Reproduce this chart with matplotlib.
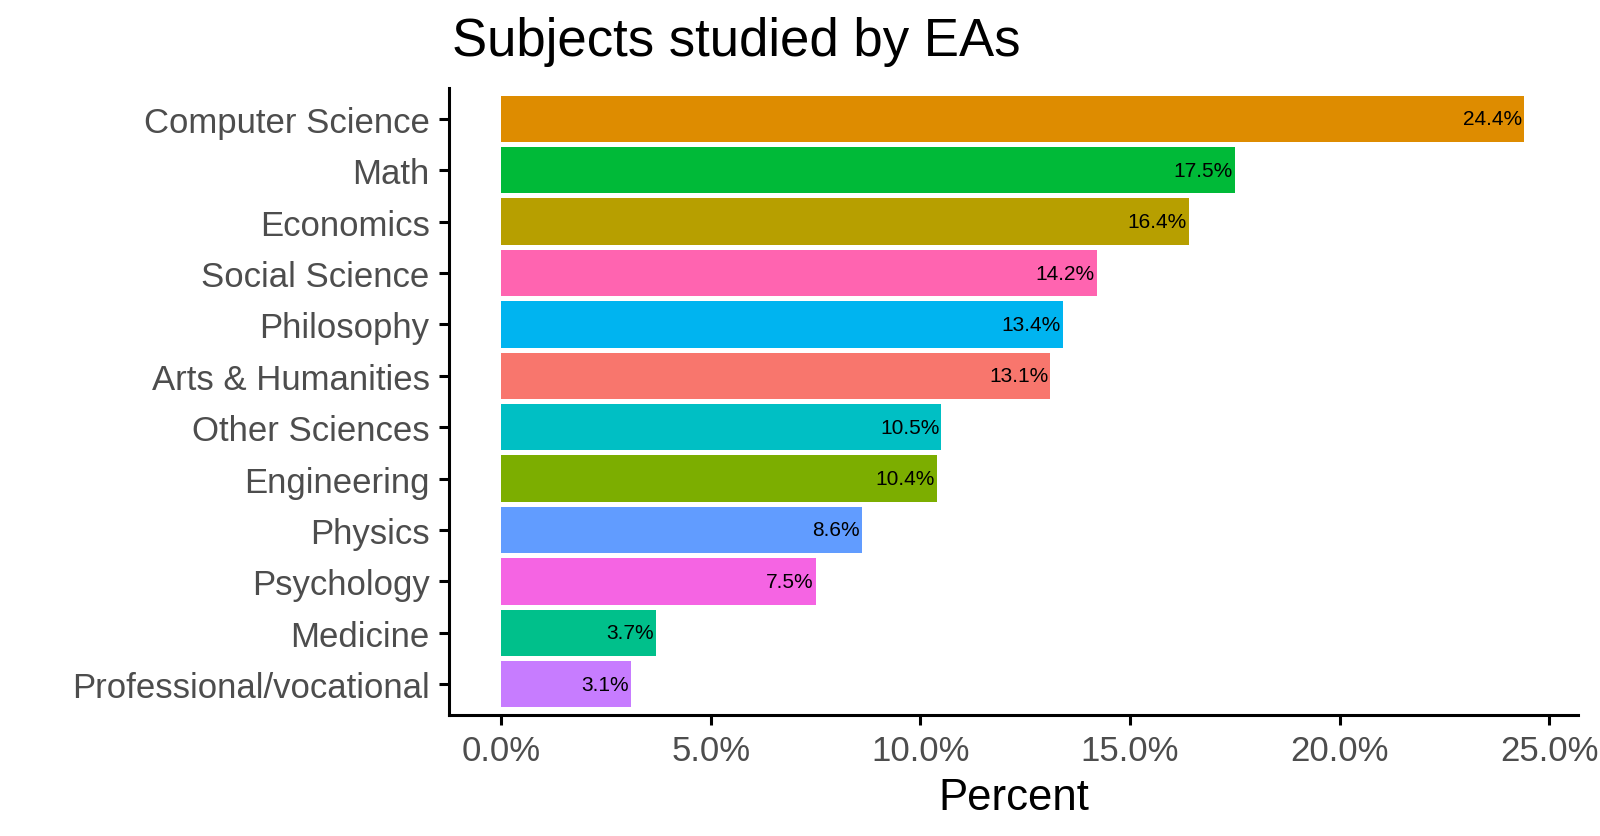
import matplotlib
matplotlib.use("Agg")
import matplotlib.pyplot as plt
from matplotlib.ticker import FuncFormatter

plt.rcParams["font.family"] = ["Liberation Sans", "DejaVu Sans"]

# subjects, top to bottom as in the chart
subjects = ["Computer Science", "Math", "Economics", "Social Science", "Philosophy",
            "Arts & Humanities", "Other Sciences", "Engineering", "Physics",
            "Psychology", "Medicine", "Professional/vocational"]
percents = [24.4, 17.5, 16.4, 14.2, 13.4, 13.1, 10.5, 10.4, 8.6, 7.5, 3.7, 3.1]

# ggplot default hue palette, assigned alphabetically
hue = ["#F8766D", "#DE8C00", "#B79F00", "#7CAE00", "#00BA38", "#00C08B",
       "#00BFC4", "#00B4F0", "#619CFF", "#C77CFF", "#F564E3", "#FF64B0"]
alpha_order = sorted(subjects)
colors = [hue[alpha_order.index(s)] for s in subjects]

fig = plt.figure(figsize=(16, 8.37), dpi=100)
ax = fig.add_axes([449 / 1600, 1 - 716 / 837, 1129 / 1600, 627 / 837])

ypos = list(range(len(subjects)))[::-1]
ax.barh(ypos, percents, height=0.9, color=colors)
for y, v in zip(ypos, percents):
    ax.text(v - 0.05, y, f"{v}%", ha="right", va="center", fontsize=15, color="black")

ax.set_xlim(-1.24, 25.68)
ax.set_ylim(-0.6, len(subjects) - 0.4)
ax.set_yticks(ypos)
ax.set_yticklabels(subjects, fontsize=25, color="#4d4d4d")
ax.set_xticks([0, 5, 10, 15, 20, 25])
ax.xaxis.set_major_formatter(FuncFormatter(lambda x, p: f"{x:.1f}%"))
ax.tick_params(axis="x", labelsize=25, labelcolor="#4d4d4d", length=7, width=2.2, pad=7)
ax.tick_params(axis="y", length=7, width=2.2, pad=7)
for s in ["top", "right"]:
    ax.spines[s].set_visible(False)
for s in ["left", "bottom"]:
    ax.spines[s].set_linewidth(2.2)
ax.set_xlabel("Percent", fontsize=31.5, labelpad=7)
fig.text(452 / 1600, 1 - 42 / 837, "Subjects studied by EAs", fontsize=38, va="center", ha="left")

fig.savefig("out.png", dpi=100)
